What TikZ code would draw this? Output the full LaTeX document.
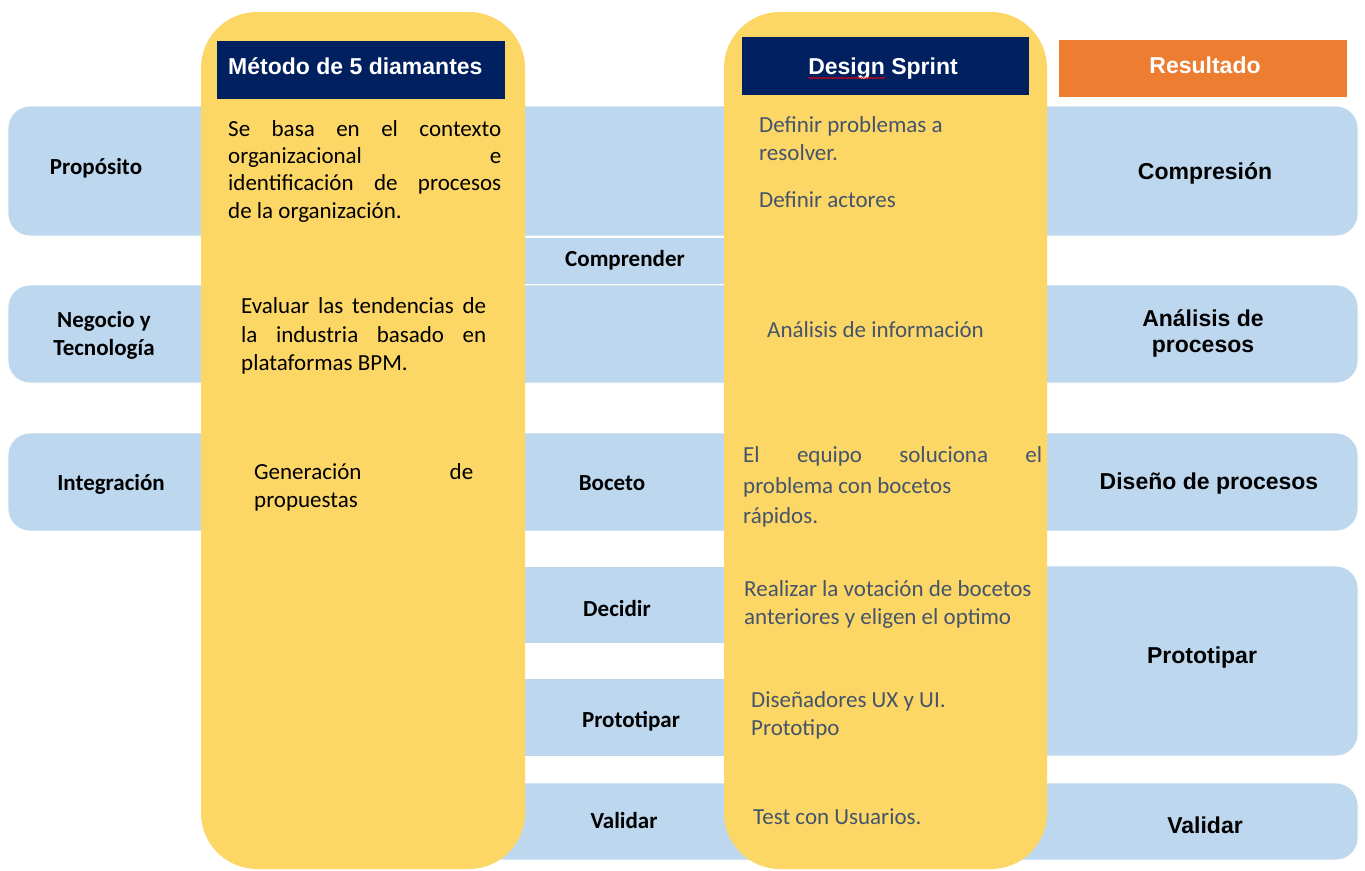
\documentclass[tikz,border=0pt]{standalone}
\usepackage{fontspec}
\setmainfont{Carlito}
\newfontfamily\arialf{Liberation Sans}
\usetikzlibrary{calc,decorations.pathmorphing}
\definecolor{cblue}{HTML}{BDD7EE}
\definecolor{cyel}{HTML}{FDD766}
\definecolor{cnavy}{HTML}{002060}
\definecolor{corange}{HTML}{ED7D31}
\definecolor{ctext}{HTML}{44546A}
\newcommand{\jl}[2]{\makebox[#1pt][s]{#2}}
\begin{document}
\begin{tikzpicture}[x=1pt,y=-1pt,
  bluebox/.style={fill=cblue, draw=white, line width=0.8pt},
  bluerow/.style={bluebox, rounded corners=22pt},
  ycol/.style={fill=cyel, draw=none, rounded corners=56pt},
  hdr/.style={fill=cnavy, draw=none, inner sep=0pt, anchor=north west},
  lab/.style={font=\bfseries\fontsize{23}{28}\selectfont, inner sep=0pt, anchor=base},
  rlab/.style={font=\arialf\bfseries\fontsize{23}{28}\selectfont, inner sep=0pt, anchor=base},
  htxt/.style={font=\arialf\bfseries\fontsize{23}{28}\selectfont, text=white, inner sep=0pt},
  ytx/.style={font=\fontsize{23}{28}\selectfont, inner sep=0pt, anchor=base west},
  stx/.style={ytx, text=ctext},
]
\useasboundingbox[fill=white] (0,0) rectangle (1365,870);
% blue rows
\path[bluerow] (8,106) rectangle (1358,236);
\path[bluebox] (480,237) rectangle (760,284);
\path[bluerow] (8,285) rectangle (1358,383);
\path[bluerow] (8,433) rectangle (1358,531);
\path[bluebox] (480,566) rectangle (760,643);
\path[bluerow] (1000,566) rectangle (1358,756);
\path[bluebox] (480,678) rectangle (760,756);
\path[bluerow] (480,783) rectangle (1358,860);
% yellow columns
\path[ycol] (201,12) rectangle (525,869);
\path[ycol] (724,12) rectangle (1047,869);
% headers
\node[hdr, minimum width=288pt, minimum height=58pt] (hd1box) at (217,41) {};
\node[htxt, anchor=base west] (hd1) at (228,74) {Método de 5 diamantes};
\node[hdr, minimum width=287pt, minimum height=58pt] (hd2box) at (742,37) {};
\node[htxt, anchor=base] (hd2) at (883,74) {Design Sprint};
\node[hdr, fill=corange, minimum width=288pt, minimum height=57pt] (hd3box) at (1059,40) {};
\node[htxt, anchor=base] (hd3) at (1205,73) {Resultado};
\draw[red, line width=0.6pt, decorate, decoration={snake, amplitude=0.7pt, segment length=2.5pt}] ($(hd2.base west)+(0,4)$) -- ++(77,0);
% left labels
\node[lab] (p1) at (96,174) {Propósito};
\node[lab] (p2a) at (104,327) {Negocio y};
\node[lab] (p2b) at (104,355) {Tecnología};
\node[lab] (p3) at (111,490) {Integración};
% middle labels
\node[lab] (m1) at (625,266) {Comprender};
\node[lab] (m2) at (612,490) {Boceto};
\node[lab] (m3) at (617,616) {Decidir};
\node[lab] (m4) at (631,727) {Prototipar};
\node[lab] (m5) at (624,828) {Validar};
% right labels
\node[rlab] (r1) at (1205,179) {Compresión};
\node[rlab] (r2a) at (1203,326) {Análisis de};
\node[rlab] (r2b) at (1203,352) {procesos};
\node[rlab] (r3) at (1209,489) {Diseño de procesos};
\node[rlab] (r4) at (1202,663) {Prototipar};
\node[rlab] (r5) at (1205,833) {Validar};
% column 1 texts
\node[ytx] (a1) at (228,136) {\jl{273}{Se basa en el contexto}};
\node[ytx] (a2) at (228,163) {\jl{273}{organizacional e}};
\node[ytx] (a3) at (228,190) {\jl{273}{identificación de procesos}};
\node[ytx] (a4) at (228,218) {de la organización.};
\node[ytx] (b1) at (241,313) {\jl{245}{Evaluar las tendencias de}};
\node[ytx] (b2) at (241,342) {\jl{245}{la industria basado en}};
\node[ytx] (b3) at (241,370) {plataformas BPM.};
\node[ytx] (c1) at (254,479) {\jl{219}{Generación de}};
\node[ytx] (c2) at (254,507) {propuestas};
% column 2 texts
\node[stx] (d1) at (759,132) {Definir problemas a};
\node[stx] (d2) at (759,160) {resolver.};
\node[stx] (d3) at (759,207) {Definir actores};
\node[stx] (e1) at (767,337) {Análisis de información};
\node[stx] (f1) at (743,462) {\jl{299}{El equipo soluciona el}};
\node[stx] (f2) at (743,493) {problema con bocetos};
\node[stx] (f3) at (743,523) {rápidos.};
\node[stx] (g1) at (744,596) {Realizar la votación de bocetos};
\node[stx] (g2) at (744,624) {anteriores y eligen el optimo};
\node[stx] (k1) at (751,707) {Diseñadores UX y UI.};
\node[stx] (k2) at (751,735) {Prototipo};
\node[stx] (i1) at (753,824) {Test con Usuarios.};
\end{tikzpicture}
\end{document}
